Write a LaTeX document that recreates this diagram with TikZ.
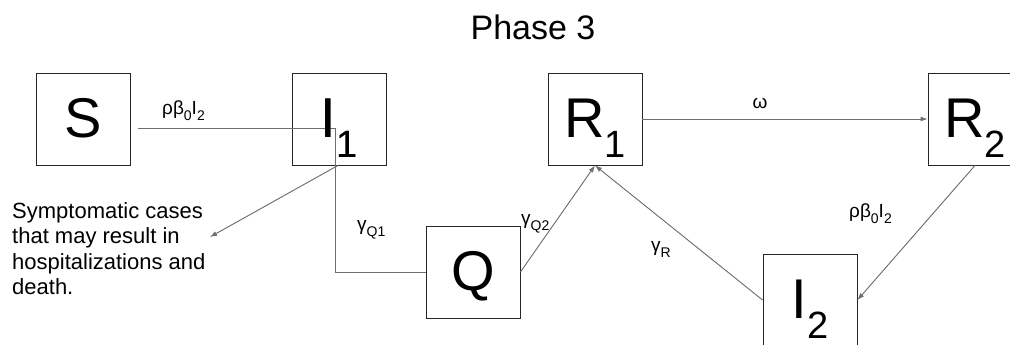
\documentclass[tikz,border=0pt]{standalone}
\usepackage{fontspec}
\setmainfont{Liberation Sans}
\usetikzlibrary{arrows.meta}
\definecolor{boxline}{HTML}{262626}
\definecolor{conncol}{HTML}{6E6E6E}
\newcommand\bsub[1]{\smash{\raisebox{-20pt}{\fontsize{38}{38}\selectfont #1}}}
\newcommand\lsub[1]{\raisebox{-6.5pt}{\fontsize{14}{14}\selectfont #1}}
\tikzset{
  compbox/.style={draw=boxline, line width=0.9pt, minimum width=94pt, minimum height=92pt,
    inner sep=0pt, text height=38pt, text depth=2pt, font=\fontsize{56}{56}\selectfont},
  lbl/.style={inner sep=0pt, font=\fontsize{19}{19}\selectfont},
  conn/.style={draw=conncol, line width=0.9pt},
  arr/.style={conn, -{Latex[length=7pt,width=5pt]}, fill=conncol}
}
\begin{document}
\begin{tikzpicture}[x=1pt,y=-1pt]
\useasboundingbox (0,0) rectangle (1010,345);
\fill[white] (0,0) rectangle (1010,345);
\begin{scope}
\clip (0,0) rectangle (1010,345);
\node[inner sep=0pt, anchor=base, font=\fontsize{34}{34}\selectfont] (title) at (533,40) {Phase 3};
\node[compbox] (S) at (83.5,119) {S};
\node[compbox] (I1) at (339,119) {I\bsub{1}};
\node[compbox] (R1) at (595,119) {R\bsub{1}};
\node[compbox] (R2) at (975,119) {R\bsub{2}};
\node[compbox] (Q) at (473,272) {Q};
\node[compbox] (I2) at (810,300) {I\bsub{2}};
\node[inner sep=0pt, anchor=north west, align=left, font=\fontsize{22}{25.5}\selectfont] (note) at (12,202)
  {Symptomatic cases\\that may result in\\hospitalizations and\\death.};
\coordinate (s1) at ([xshift=7pt,yshift=-9pt]S.east);
\coordinate (j1) at ([xshift=-4pt,yshift=-9pt]I1.center);
\coordinate (st) at (210,237);
\draw[conn] (s1) -- (j1);
\draw[conn] (j1) |- (Q.west);
\draw[arr] ([xshift=-1pt]I1.south) -- (st);
\draw[arr] (Q.east) -- (R1.south);
\draw[arr] (I2.west) -- (R1.south);
\draw[arr] (R1.east) -- (R2.west);
\draw[arr] (R2.south) -- (I2.east);
\node[compbox, draw=none] (I1top) at (I1) {I\bsub{1}};
\node[lbl, anchor=base west] (l1) at (162,114) {ρβ\lsub{0}I\lsub{2}};
\node[lbl, anchor=base] (l2) at (760,108) {ω};
\node[lbl, anchor=base west] (l3) at (849,217) {ρβ\lsub{0}I\lsub{2}};
\node[lbl, anchor=base west] (l4) at (357,230) {γ\lsub{Q1}};
\node[lbl, anchor=base west] (l5) at (521,224) {γ\lsub{Q2}};
\node[lbl, anchor=base west] (l6) at (651,251) {γ\lsub{R}};
\end{scope}
\end{tikzpicture}
\end{document}
